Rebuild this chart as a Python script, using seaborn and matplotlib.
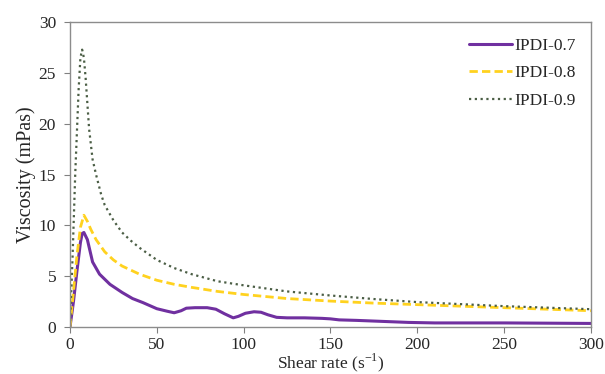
import numpy as np
import pandas as pd
import matplotlib
matplotlib.use("Agg")
import matplotlib.pyplot as plt
import seaborn as sns

# data
x07 = [0, 2, 4, 6, 7, 8, 10, 13, 17, 23, 30, 36, 42, 50, 56, 60, 64, 67, 72, 79, 84, 89, 94, 97, 101, 106, 110, 114, 119, 125, 135, 145, 150, 155, 165, 180, 195, 210, 250, 300]
y07 = [0, 2.5, 5.5, 8.3, 9.2, 9.3, 8.6, 6.4, 5.2, 4.2, 3.4, 2.8, 2.4, 1.8, 1.55, 1.4, 1.6, 1.85, 1.9, 1.9, 1.75, 1.3, 0.9, 1.05, 1.35, 1.5, 1.45, 1.2, 0.95, 0.9, 0.9, 0.85, 0.8, 0.7, 0.65, 0.55, 0.45, 0.4, 0.4, 0.35]

x08 = [0, 2, 4, 6, 8, 10, 12, 15, 20, 25, 30, 40, 50, 60, 70, 85, 100, 125, 150, 175, 200, 250, 300]
y08 = [0, 3.5, 7.0, 9.8, 11.0, 10.4, 9.6, 8.6, 7.4, 6.6, 6.0, 5.2, 4.6, 4.2, 3.9, 3.5, 3.2, 2.8, 2.55, 2.35, 2.2, 1.9, 1.6]

x09 = [0, 1.5, 3, 5, 6, 7, 8, 9, 10, 11, 13, 15, 18, 20, 25, 30, 35, 40, 50, 60, 70, 85, 100, 125, 150, 175, 200, 250, 300]
y09 = [0, 7, 15, 23.5, 26.5, 27.3, 26.5, 24.5, 22.0, 19.5, 16.5, 15.0, 13.0, 12.0, 10.5, 9.3, 8.5, 7.8, 6.6, 5.8, 5.2, 4.5, 4.1, 3.5, 3.1, 2.75, 2.45, 2.05, 1.75]

labels = ["IPDI-0.7", "IPDI-0.8", "IPDI-0.9"]

sns.set_style("white")
plt.rcParams["font.family"] = ["Liberation Serif", "DejaVu Serif"]

fig = plt.figure(figsize=(6.05, 3.74), dpi=100)
ax = fig.add_axes([0.1157, 0.1257, 0.861, 0.815])

sns.lineplot(x=x07, y=y07, ax=ax, color="#7030A0", lw=2.2, label=labels[0])
sns.lineplot(x=x08, y=y08, ax=ax, color="#FFD21F", lw=2.0, linestyle=(0, (3, 1.5)), label=labels[1])
sns.lineplot(x=x09, y=y09, ax=ax, color="#4B5E45", lw=1.6, linestyle=(0, (1, 1.6)), label=labels[2])

ax.set_xlim(0, 300)
ax.set_ylim(0, 30)
ax.set_xticks(range(0, 301, 50))
ax.set_yticks(range(0, 31, 5))
ax.tick_params(labelsize=12.5, length=4, color="#808080", direction="out", bottom=True, left=True)
ax.tick_params(axis="x", pad=3)
ax.tick_params(axis="y", pad=6)
for s in ax.spines.values():
    s.set_color("#8c8c8c")
    s.set_linewidth(1.0)

ax.set_xlabel("Shear rate (s$^{\\mathregular{-1}}$)", fontsize=12.5)
ax.xaxis.set_label_coords(0.5, -0.08)
ax.set_ylabel("Viscosity (mPas)", fontsize=14.5, labelpad=2)

ax.legend(loc="upper right", frameon=False, fontsize=12.5, handlelength=2.5,
          handletextpad=0.1, labelspacing=0.65, borderaxespad=0.5)

fig.savefig("out.png", dpi=100)
